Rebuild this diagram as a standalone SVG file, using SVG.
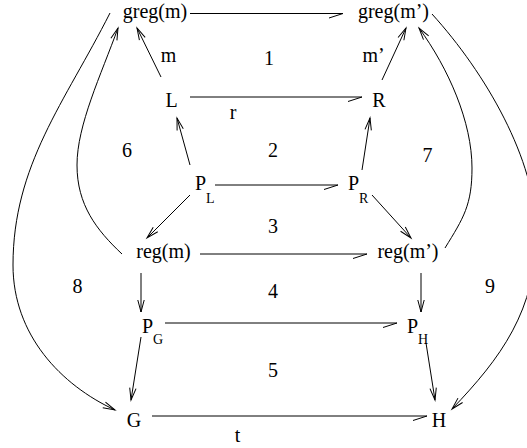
<svg xmlns="http://www.w3.org/2000/svg" width="527" height="448" viewBox="0 0 527 448">
<style>
text{font-family:"Liberation Serif","Times New Roman",serif;font-size:20px;fill:#000}
.sub{font-size:14px}
.e{fill:none;stroke:#000;stroke-width:1}
.full{marker-end:url(#af)}
.half{marker-end:url(#ah)}
</style>
<defs>
<marker id="af" viewBox="-14 -6 16 12" refX="0" refY="0" markerUnits="userSpaceOnUse" markerWidth="16" markerHeight="12" orient="auto" overflow="visible">
<path d="M-12,-3.2 L0,0 L-12,3.2" fill="none" stroke="#000" stroke-width="1"/>
</marker>
<marker id="ah" viewBox="-16 -6 18 12" refX="0" refY="0" markerUnits="userSpaceOnUse" markerWidth="18" markerHeight="12" orient="auto" overflow="visible">
<path d="M-14,4.5 L0,0" fill="none" stroke="#000" stroke-width="1"/>
</marker>
</defs>
<rect width="527" height="448" fill="#fff"/>
<g id="connectors">
<path class="e half" d="M190,13.5 H343"/>
<path class="e full" d="M161,77 L137,28"/>
<path class="e full" d="M382,80 L406,28"/>
<path class="e half" d="M190,97 H362"/>
<path class="e full" d="M190,165 L177,118"/>
<path class="e full" d="M362,170 L370,118"/>
<path class="e half" d="M215,185 H338"/>
<path class="e full" d="M190,195 L147,238"/>
<path class="e full" d="M372,195 L411,238"/>
<path class="e half" d="M200,254 H367"/>
<path class="e full" d="M141,273 V312"/>
<path class="e full" d="M421,273 V312"/>
<path class="e half" d="M165,323 H397"/>
<path class="e full" d="M141,337 L131,400"/>
<path class="e full" d="M426,343 L435,400"/>
<path class="e half" d="M152,416 H427"/>
<path class="e full" d="M110,13 C65,102 13,165 13,265 C13,335 61,385 115,410"/>
<path class="e full" d="M122,254 C96.5,230 77,205 77,165 C77,125 101,75 118,28"/>
<path class="e full" d="M445,248 C463.5,218 472,205 472,168 C472,122 448.5,68.5 419,28"/>
<path class="e full" d="M432,14 C485.6,73 536,160 536,232 C537,310 500.3,358.6 452,409"/>
</g>
<g id="greg_m"><text x="155" y="18" text-anchor="middle">greg(m)</text></g>
<g id="greg_m2"><text x="393.5" y="18" text-anchor="middle">greg(m’)</text></g>
<g id="L"><text x="171.5" y="107" text-anchor="middle">L</text></g>
<g id="R"><text x="379" y="107" text-anchor="middle">R</text></g>
<g id="P_L"><text x="195" y="190">P</text><text class="sub" x="206" y="203">L</text></g>
<g id="P_R"><text x="348" y="190">P</text><text class="sub" x="359" y="203">R</text></g>
<g id="reg_m"><text x="163.5" y="258" text-anchor="middle">reg(m)</text></g>
<g id="reg_m2"><text x="408" y="258" text-anchor="middle">reg(m’)</text></g>
<g id="P_G"><text x="142" y="333">P</text><text class="sub" x="153" y="344">G</text></g>
<g id="P_H"><text x="407" y="333">P</text><text class="sub" x="418" y="344">H</text></g>
<g id="G"><text x="134" y="427" text-anchor="middle">G</text></g>
<g id="H"><text x="439" y="427" text-anchor="middle">H</text></g>
<g id="labels">
<text x="168.5" y="62" text-anchor="middle">m</text>
<text x="373.5" y="62" text-anchor="middle">m’</text>
<text x="233" y="119" text-anchor="middle">r</text>
<text x="237.5" y="442" text-anchor="middle">t</text>
<text x="269" y="65" text-anchor="middle">1</text>
<text x="273" y="157" text-anchor="middle">2</text>
<text x="273" y="233" text-anchor="middle">3</text>
<text x="273" y="298" text-anchor="middle">4</text>
<text x="273" y="377" text-anchor="middle">5</text>
<text x="127" y="157" text-anchor="middle">6</text>
<text x="427.5" y="162" text-anchor="middle">7</text>
<text x="77.5" y="293" text-anchor="middle">8</text>
<text x="490" y="293" text-anchor="middle">9</text>
</g>
</svg>
